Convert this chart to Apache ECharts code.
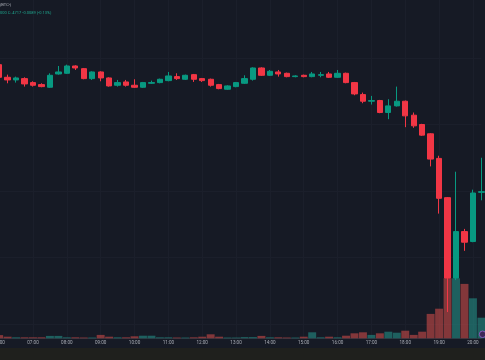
<!DOCTYPE html>
<html>
<head>
<meta charset="utf-8">
<script src="https://cdn.jsdelivr.net/npm/echarts@6/dist/echarts.min.js"></script>
<style>html,body{margin:0;padding:0;background:#161a25;}#c{width:485px;height:360px;}</style>
</head>
<body>
<div id="c"></div>
<script>
const times = ['06:00','06:15','06:30','06:45','07:00','07:15','07:30','07:45','08:00','08:15','08:30','08:45',
'09:00','09:15','09:30','09:45','10:00','10:15','10:30','10:45','11:00','11:15','11:30','11:45',
'12:00','12:15','12:30','12:45','13:00','13:15','13:30','13:45','14:00','14:15','14:30','14:45',
'15:00','15:15','15:30','15:45','16:00','16:15','16:30','16:45','17:00','17:15','17:30','17:45',
'18:00','18:15','18:30','18:45','19:00','19:15','19:30','19:45','20:00','20:15'];

const opens = [0.4990,0.4971,0.4967,0.4969,0.4963,0.4960,0.4956,0.4976,0.4977,0.4988,
0.4984,0.4969,0.4979,0.4970,0.4959,0.4964,0.4959,0.4956,0.4962,0.4963,
0.4966,0.4972,0.4968,0.4975,0.4969,0.4968,0.4960,0.4953,0.4957,0.4962,
0.4968,0.4985,0.4974,0.4979,0.4977,0.4972,0.4974,0.4972,0.4974,0.4976,
0.4971,0.4977,0.4963,0.4945,0.4935,0.4936,0.4918,0.4928,0.4935,0.4914,
0.4900,0.4886,0.4849,0.4790,0.4669,0.4739,0.4724,0.4798];

const closes = [0.4971,0.4967,0.4970,0.4961,0.4959,0.4957,0.4974,0.4979,0.4988,0.4985,
0.4969,0.4979,0.4970,0.4958,0.4963,0.4959,0.4956,0.4963,0.4963,0.4968,
0.4973,0.4969,0.4974,0.4968,0.4966,0.4959,0.4954,0.4958,0.4963,0.4969,
0.4985,0.4974,0.4980,0.4976,0.4972,0.4973,0.4972,0.4976,0.4975,0.4971,
0.4977,0.4963,0.4946,0.4935,0.4936,0.4918,0.4928,0.4935,0.4913,0.4898,
0.4884,0.4848,0.4789,0.4669,0.4739,0.4723,0.4797,0.4799];

const lows = [0.4968,0.4962,0.4963,0.4957,0.4957,0.4956,0.4955,0.4975,0.4976,0.4982,
0.4968,0.4967,0.4965,0.4957,0.4957,0.4957,0.4955,0.4955,0.4961,0.4962,
0.4965,0.4967,0.4967,0.4964,0.4964,0.4957,0.4953,0.4952,0.4956,0.4961,
0.4966,0.4973,0.4973,0.4972,0.4971,0.4971,0.4971,0.4971,0.4971,0.4970,
0.4970,0.4962,0.4944,0.4932,0.4930,0.4917,0.4908,0.4927,0.4896,0.4895,
0.4883,0.4837,0.4766,0.4618,0.4666,0.4710,0.4723,0.4786];

const highs = [0.4994,0.4975,0.4972,0.4971,0.4965,0.4962,0.4977,0.4988,0.4990,0.4989,
0.4985,0.4980,0.4980,0.4971,0.4967,0.4967,0.4968,0.4964,0.4966,0.4969,
0.4979,0.4977,0.4975,0.4976,0.4970,0.4969,0.4961,0.4959,0.4964,0.4974,
0.4986,0.4986,0.4982,0.4982,0.4978,0.4974,0.4975,0.4979,0.4979,0.4979,
0.4982,0.4978,0.4964,0.4948,0.4943,0.4937,0.4938,0.4957,0.4936,0.4918,
0.4901,0.4887,0.4853,0.4791,0.4829,0.4743,0.4802,0.4850];

const volumes = [16,8,5,5,5,5,12,12,5,5,
4,4,17,8,5,5,10,13,13,5,
5,4,4,5,8,20,8,4,4,6,
6,12,5,5,4,4,8,30,5,8,
5,13,25,30,17,25,33,28,38,17,
33,122,148,300,300,272,200,103];

const legendLine1 = '(BTC-)';
const legendLine2 = '000 C:.4717 -0.0089 (-0.13%)';

const UP = '#089981', DOWN = '#f23645';
const VOL_UP = 'rgba(38,166,154,0.5)', VOL_DOWN = 'rgba(239,83,80,0.5)';
const GRIDC = '#1b1f2b';

const chart = echarts.init(document.getElementById('c'), null, {renderer: 'canvas'});
const hourOnly = (i) => i % 4 === 0;
const gridBase = {left: -0.85, width: 482.25, containLabel: false, outerBoundsMode: 'none'};

const option = {
  backgroundColor: '#161a25',
  animation: false,
  grid: [
    Object.assign({top: -8.5, height: 399}, gridBase),
    Object.assign({top: 238.3, height: 100}, gridBase),
    Object.assign({top: 0, height: 338.3}, gridBase)
  ],
  xAxis: [
    {type: 'category', gridIndex: 0, data: times, boundaryGap: false,
     axisLine: {show: false}, axisTick: {show: false}, axisLabel: {show: false}, splitLine: {show: false}},
    {type: 'category', gridIndex: 1, data: times, boundaryGap: false,
     axisLine: {show: true, lineStyle: {color: '#2a2e39', width: 1}}, axisTick: {show: false},
     axisLabel: {show: true, interval: hourOnly, color: '#a9acb5', fontSize: 4.6, fontFamily: 'Roboto',
                 margin: 2.5, align: 'center', hideOverlap: false},
     splitLine: {show: false}},
    {type: 'category', gridIndex: 2, data: times, boundaryGap: false,
     axisLine: {show: false}, axisTick: {show: false}, axisLabel: {show: false},
     splitLine: {show: true, interval: hourOnly, lineStyle: {color: GRIDC, width: 1}}}
  ],
  yAxis: [
    {type: 'value', gridIndex: 0, min: 0.45, max: 0.51, interval: 0.01,
     axisLabel: {show: false}, axisLine: {show: false}, axisTick: {show: false},
     splitLine: {show: true, lineStyle: {color: GRIDC, width: 1}}},
    {type: 'value', gridIndex: 1, min: 0, max: 500, show: false, splitLine: {show: false}},
    {type: 'value', gridIndex: 2, min: 0, max: 1, show: false, splitLine: {show: false}}
  ],
  series: [
    {type: 'bar', name: 'Volume', xAxisIndex: 1, yAxisIndex: 1, silent: true, clip: false,
     barWidth: '94%',
     data: volumes.map((v, i) => ({value: v, itemStyle: {color: closes[i] >= opens[i] ? VOL_UP : VOL_DOWN}}))},
    {type: 'candlestick', name: 'Price', xAxisIndex: 0, yAxisIndex: 0, clip: false, barWidth: 5.8,
     data: opens.map((o, i) => [o, closes[i], lows[i], highs[i]]),
     itemStyle: {color: UP, color0: DOWN, borderColor: UP, borderColor0: DOWN, borderWidth: 1}}
  ],
  graphic: [
    {type: 'rect', shape: {x: 0, y: 348, width: 485, height: 12}, style: {fill: '#1f201d'}, z: 1},
    {type: 'text', left: 0, top: 2.5, style: {text: legendLine1, fill: '#b2b5be', font: '4px Roboto'}, z: 10},
    {type: 'text', left: 0, top: 10.5, style: {text: legendLine2, fill: '#1fa58d', font: '4px Roboto'}, z: 10},
    {type: 'circle', shape: {cx: 482.6, cy: 334.3, r: 3.3}, style: {fill: '#3d2858', stroke: '#9a62d2', lineWidth: 0.8}, z: 10}
  ]
};
chart.setOption(option);
</script>
</body>
</html>
